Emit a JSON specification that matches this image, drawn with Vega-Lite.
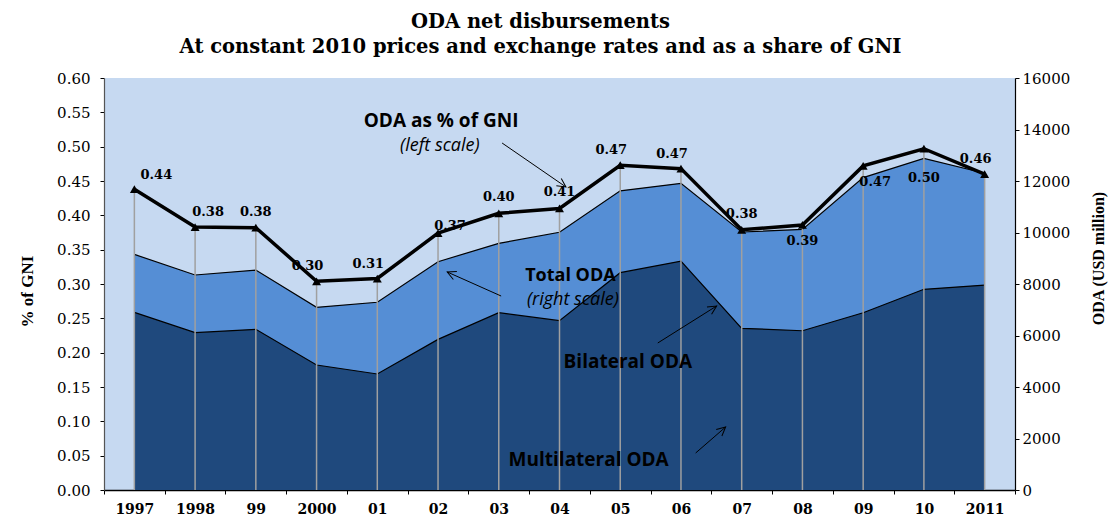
{
  "$schema": "https://vega.github.io/schema/vega-lite/v6.json",
  "width": 911,
  "height": 412,
  "autosize": {"type": "none"},
  "padding": {"left": 104, "top": 78, "right": 95, "bottom": 27},
  "background": "#ffffff",
  "title": {
    "text": ["ODA net disbursements", "At constant 2010 prices and exchange rates and as a share of GNI"],
    "font": "DejaVu Serif", "fontSize": 19.5, "fontWeight": "bold", "color": "black",
    "lineHeight": 25, "anchor": "middle", "frame": "group", "dx": -19, "offset": 14
  },
  "config": {
    "view": {"fill": "#c6d9f1", "stroke": null},
    "axis": {"grid": false, "domainColor": "black", "tickColor": "black", "labelColor": "black", "titleColor": "black", "labelFont": "DejaVu Serif", "titleFont": "Liberation Serif"}
  },
  "data": {
    "values": [
      {"year": 1997, "bilateral": 6900, "total": 9150, "pct": 0.438},
      {"year": 1998, "bilateral": 6110, "total": 8350, "pct": 0.383},
      {"year": 1999, "bilateral": 6240, "total": 8540, "pct": 0.382},
      {"year": 2000, "bilateral": 4855, "total": 7095, "pct": 0.304},
      {"year": 2001, "bilateral": 4505, "total": 7290, "pct": 0.308},
      {"year": 2002, "bilateral": 5850, "total": 8865, "pct": 0.374},
      {"year": 2003, "bilateral": 6885, "total": 9580, "pct": 0.403},
      {"year": 2004, "bilateral": 6575, "total": 10010, "pct": 0.410},
      {"year": 2005, "bilateral": 8440, "total": 11620, "pct": 0.473},
      {"year": 2006, "bilateral": 8890, "total": 11910, "pct": 0.468},
      {"year": 2007, "bilateral": 6280, "total": 10020, "pct": 0.379},
      {"year": 2008, "bilateral": 6185, "total": 10120, "pct": 0.386},
      {"year": 2009, "bilateral": 6885, "total": 12130, "pct": 0.472},
      {"year": 2010, "bilateral": 7795, "total": 12880, "pct": 0.497},
      {"year": 2011, "bilateral": 7960, "total": 12300, "pct": 0.460}
    ]
  },
  "layer": [
    {
      "encoding": {
        "x": {
          "field": "year", "type": "quantitative",
          "scale": {"domain": [1996.5, 2011.5], "nice": false, "zero": false},
          "axis": {"orient": "bottom", "values": [1996.5, 1997.5, 1998.5, 1999.5, 2000.5, 2001.5, 2002.5, 2003.5, 2004.5, 2005.5, 2006.5, 2007.5, 2008.5, 2009.5, 2010.5, 2011.5], "labels": false, "tickSize": 4, "title": null, "domainWidth": 1.5}
        }
      },
      "layer": [
        {
          "mark": {"type": "area", "color": "#558ed5", "opacity": 1, "line": {"color": "black", "strokeWidth": 1.2}},
          "encoding": {
            "y": {"field": "total", "type": "quantitative", "scale": {"domain": [0, 16000], "nice": false},
              "axis": {"orient": "right", "values": [0, 2000, 4000, 6000, 8000, 10000, 12000, 14000, 16000], "format": "d", "tickSize": 4, "labelPadding": 3, "labelFontSize": 15, "title": "ODA (USD million)", "titleAngle": -90, "titleFontSize": 16, "titleFontWeight": "bold", "titlePadding": 37, "titleY": 180, "domainWidth": 1.2}}
          }
        },
        {
          "mark": {"type": "area", "color": "#1f497d", "opacity": 1, "line": {"color": "black", "strokeWidth": 1.2}},
          "encoding": {
            "y": {"field": "bilateral", "type": "quantitative", "scale": {"domain": [0, 16000], "nice": false},
              "axis": {"orient": "right", "values": [0, 2000, 4000, 6000, 8000, 10000, 12000, 14000, 16000], "format": "d", "tickSize": 4, "labelPadding": 3, "labelFontSize": 15, "title": "ODA (USD million)", "titleAngle": -90, "titleFontSize": 16, "titleFontWeight": "bold", "titlePadding": 37, "titleY": 180, "domainWidth": 1.2}}
          }
        }
      ]
    },
    {
      "encoding": {
        "x": {
          "field": "year", "type": "quantitative",
          "scale": {"domain": [1996.5, 2011.5], "nice": false, "zero": false},
          "axis": {"orient": "bottom", "values": [1997, 1998, 1999, 2000, 2001, 2002, 2003, 2004, 2005, 2006, 2007, 2008, 2009, 2010, 2011], "ticks": false, "domain": false, "labelFontSize": 14, "labelFontWeight": "bold", "labelPadding": 12, "title": null,
            "labelExpr": "['1997','1998','99','2000','01','02','03','04','05','06','07','08','09','10','2011'][datum.value-1997]"}
        },
        "y": {
          "field": "pct", "type": "quantitative", "scale": {"domain": [0, 0.6], "nice": false},
          "axis": {"orient": "left", "values": [0, 0.05, 0.1, 0.15, 0.2, 0.25, 0.3, 0.35, 0.4, 0.45, 0.5, 0.55, 0.6], "format": ".2f", "tickSize": 4, "labelPadding": 10, "labelFontSize": 15, "title": "% of GNI", "titleFontSize": 17, "titleFontWeight": "bold", "titlePadding": 20, "titleY": 213, "domainColor": "#555555", "domainWidth": 1.2}
        }
      },
      "layer": [
        {"mark": {"type": "rule", "color": "#a0a0a0", "strokeWidth": 1.5}, "encoding": {"y2": {"datum": 0}}},
        {"mark": {"type": "line", "color": "black", "strokeWidth": 3.5}},
        {"mark": {"type": "point", "shape": "triangle-up", "filled": true, "color": "black", "size": 80, "opacity": 1}},
        {"transform": [{"filter": {"field": "year", "oneOf": [1999, 2003, 2004, 2007]}}],
          "mark": {"type": "text", "font": "DejaVu Serif", "fontSize": 13, "fontWeight": "bold", "color": "black", "dx": 0, "dy": -16},
          "encoding": {"text": {"field": "pct", "format": ".2f"}}},
        {"transform": [{"filter": {"field": "year", "oneOf": [2000, 2001, 2005, 2006, 2011]}}],
          "mark": {"type": "text", "font": "DejaVu Serif", "fontSize": 13, "fontWeight": "bold", "color": "black", "dx": -9, "dy": -15},
          "encoding": {"text": {"field": "pct", "format": ".2f"}}},
        {"transform": [{"filter": {"field": "year", "oneOf": [1997]}}],
          "mark": {"type": "text", "font": "DejaVu Serif", "fontSize": 13, "fontWeight": "bold", "color": "black", "dx": 22, "dy": -14},
          "encoding": {"text": {"field": "pct", "format": ".2f"}}},
        {"transform": [{"filter": {"field": "year", "oneOf": [1998]}}],
          "mark": {"type": "text", "font": "DejaVu Serif", "fontSize": 13, "fontWeight": "bold", "color": "black", "dx": 13, "dy": -15},
          "encoding": {"text": {"field": "pct", "format": ".2f"}}},
        {"transform": [{"filter": {"field": "year", "oneOf": [2002]}}],
          "mark": {"type": "text", "font": "DejaVu Serif", "fontSize": 13, "fontWeight": "bold", "color": "black", "dx": 12, "dy": -7},
          "encoding": {"text": {"field": "pct", "format": ".2f"}}},
        {"transform": [{"filter": {"field": "year", "oneOf": [2008]}}],
          "mark": {"type": "text", "font": "DejaVu Serif", "fontSize": 13, "fontWeight": "bold", "color": "black", "dx": 0, "dy": 16},
          "encoding": {"text": {"field": "pct", "format": ".2f"}}},
        {"transform": [{"filter": {"field": "year", "oneOf": [2009]}}],
          "mark": {"type": "text", "font": "DejaVu Serif", "fontSize": 13, "fontWeight": "bold", "color": "black", "dx": 12, "dy": 16},
          "encoding": {"text": {"field": "pct", "format": ".2f"}}},
        {"transform": [{"filter": {"field": "year", "oneOf": [2010]}}],
          "mark": {"type": "text", "font": "DejaVu Serif", "fontSize": 13, "fontWeight": "bold", "color": "black", "dx": 0, "dy": 29},
          "encoding": {"text": {"field": "pct", "format": ".2f"}}}
      ]
    },
    {
      "data": {"values": [{}]},
      "layer": [
        {"mark": {"type": "text", "font": "Open Sans", "fontSize": 19, "fontWeight": "bold", "color": "black", "text": "ODA as % of GNI"},
          "encoding": {"x": {"datum": 2002.05, "type": "quantitative", "axis": null}, "y": {"datum": 0.538, "type": "quantitative", "scale": {"domain": [0, 0.6], "nice": false}, "axis": null}}},
        {"mark": {"type": "text", "font": "Open Sans", "fontSize": 18, "fontStyle": "italic", "color": "black", "text": "(left scale)"},
          "encoding": {"x": {"datum": 2002.03, "type": "quantitative", "axis": null}, "y": {"datum": 0.501, "type": "quantitative", "scale": {"domain": [0, 0.6], "nice": false}, "axis": null}}},
        {"mark": {"type": "text", "font": "Open Sans", "fontSize": 18, "fontWeight": "bold", "color": "black", "text": "Total ODA"},
          "encoding": {"x": {"datum": 2004.18, "type": "quantitative", "axis": null}, "y": {"datum": 0.3117, "type": "quantitative", "scale": {"domain": [0, 0.6], "nice": false}, "axis": null}}},
        {"mark": {"type": "text", "font": "Open Sans", "fontSize": 18, "fontStyle": "italic", "color": "black", "text": "(right scale)"},
          "encoding": {"x": {"datum": 2004.22, "type": "quantitative", "axis": null}, "y": {"datum": 0.276, "type": "quantitative", "scale": {"domain": [0, 0.6], "nice": false}, "axis": null}}},
        {"mark": {"type": "text", "font": "Open Sans", "fontSize": 19, "fontWeight": "bold", "color": "black", "text": "Bilateral ODA"},
          "encoding": {"x": {"datum": 2005.125, "type": "quantitative", "axis": null}, "y": {"datum": 0.1864, "type": "quantitative", "scale": {"domain": [0, 0.6], "nice": false}, "axis": null}}},
        {"mark": {"type": "text", "font": "Open Sans", "fontSize": 19, "fontWeight": "bold", "color": "black", "text": "Multilateral ODA"},
          "encoding": {"x": {"datum": 2004.48, "type": "quantitative", "axis": null}, "y": {"datum": 0.0437, "type": "quantitative", "scale": {"domain": [0, 0.6], "nice": false}, "axis": null}}},
        {"mark": {"type": "rule", "color": "black", "strokeWidth": 1},
          "encoding": {"x": {"datum": 2003.055, "type": "quantitative", "axis": null}, "y": {"datum": 0.5053, "type": "quantitative", "scale": {"domain": [0, 0.6], "nice": false}, "axis": null}, "x2": {"datum": 2004.106}, "y2": {"datum": 0.4413}}},
        {"mark": {"type": "rule", "color": "black", "strokeWidth": 1},
          "encoding": {"x": {"datum": 2003.039, "type": "quantitative", "axis": null}, "y": {"datum": 0.2825, "type": "quantitative", "scale": {"domain": [0, 0.6], "nice": false}, "axis": null}, "x2": {"datum": 2002.151}, "y2": {"datum": 0.3175}}},
        {"mark": {"type": "rule", "color": "black", "strokeWidth": 1},
          "encoding": {"x": {"datum": 2005.618, "type": "quantitative", "axis": null}, "y": {"datum": 0.2141, "type": "quantitative", "scale": {"domain": [0, 0.6], "nice": false}, "axis": null}, "x2": {"datum": 2006.587}, "y2": {"datum": 0.268}}},
        {"mark": {"type": "rule", "color": "black", "strokeWidth": 1},
          "encoding": {"x": {"datum": 2006.242, "type": "quantitative", "axis": null}, "y": {"datum": 0.0539, "type": "quantitative", "scale": {"domain": [0, 0.6], "nice": false}, "axis": null}, "x2": {"datum": 2006.735}, "y2": {"datum": 0.0917}}},
        {"mark": {"type": "point", "shape": "M-0.5,1L0,0L0.5,1", "filled": false, "stroke": "black", "strokeWidth": 1, "size": 300, "opacity": 1, "angle": 124.5},
          "encoding": {"x": {"datum": 2004.106, "type": "quantitative", "axis": null}, "y": {"datum": 0.4413, "type": "quantitative", "scale": {"domain": [0, 0.6], "nice": false}, "axis": null}}},
        {"mark": {"type": "point", "shape": "M-0.5,1L0,0L0.5,1", "filled": false, "stroke": "black", "strokeWidth": 1, "size": 300, "opacity": 1, "angle": -66},
          "encoding": {"x": {"datum": 2002.151, "type": "quantitative", "axis": null}, "y": {"datum": 0.3175, "type": "quantitative", "scale": {"domain": [0, 0.6], "nice": false}, "axis": null}}},
        {"mark": {"type": "point", "shape": "M-0.5,1L0,0L0.5,1", "filled": false, "stroke": "black", "strokeWidth": 1, "size": 300, "opacity": 1, "angle": 57.9},
          "encoding": {"x": {"datum": 2006.587, "type": "quantitative", "axis": null}, "y": {"datum": 0.268, "type": "quantitative", "scale": {"domain": [0, 0.6], "nice": false}, "axis": null}}},
        {"mark": {"type": "point", "shape": "M-0.5,1L0,0L0.5,1", "filled": false, "stroke": "black", "strokeWidth": 1, "size": 300, "opacity": 1, "angle": 49.1},
          "encoding": {"x": {"datum": 2006.735, "type": "quantitative", "axis": null}, "y": {"datum": 0.0917, "type": "quantitative", "scale": {"domain": [0, 0.6], "nice": false}, "axis": null}}}
      ]
    }
  ],
  "resolve": {"scale": {"y": "independent"}, "axis": {"x": "independent"}}
}
